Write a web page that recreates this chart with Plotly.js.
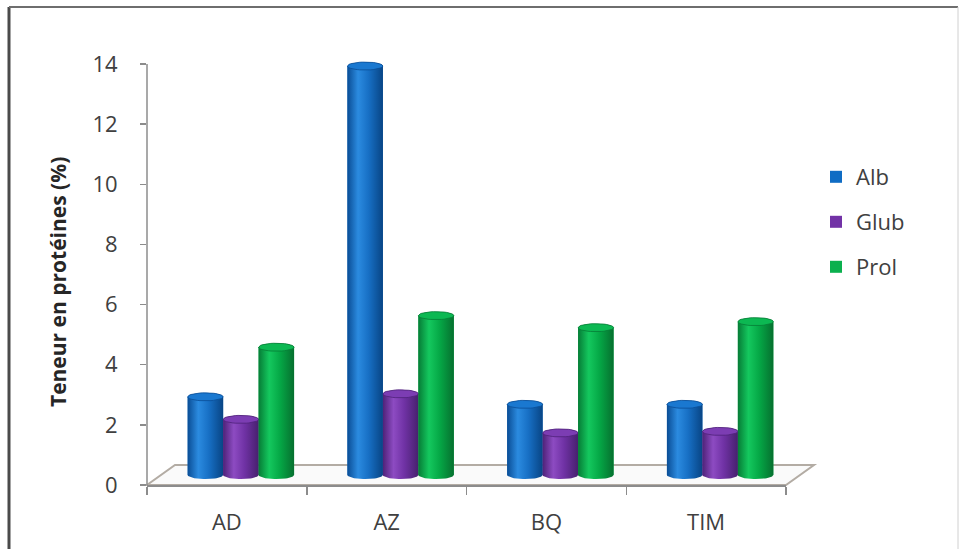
<!DOCTYPE html>
<html>
<head>
<meta charset="utf-8">
<script src="https://cdn.plot.ly/plotly-3.0.1.min.js"></script>
<style>
  html, body { margin: 0; padding: 0; background: #ffffff; }
  #chart { width: 963px; height: 549px; }
</style>
</head>
<body>
<div id="chart"></div>
<script>
// Protein content per sample (%)
const categories = ['AD', 'AZ', 'BQ', 'TIM'];
const seriesNames = ['Alb', 'Glub', 'Prol'];
const albValues = [2.6, 13.6, 2.35, 2.35];
const glubValues = [1.85, 2.7, 1.4, 1.45];
const prolValues = [4.25, 5.3, 4.9, 5.1];
const yTickValues = [0, 2, 4, 6, 8, 10, 12, 14];
const yTitle = 'Teneur en protéines (%)';

// Cylinder shading per series: edge, highlight, cap
const seriesColors = ['#0f6cc4', '#7232a6', '#0bb04e'];
const seriesShades = [
  [[0, '#0a4d95'], [0.3, '#2b8be0'], [0.6, '#176fc4'], [1, '#084585']],
  [[0, '#4e2278'], [0.3, '#8d4bc2'], [0.6, '#7032a5'], [1, '#47206e']],
  [[0, '#067c36'], [0.3, '#14c85e'], [0.6, '#05a846'], [1, '#06702f']]
];
const capColors = ['#1a78d0', '#7c3db3', '#0cb852'];
const allValues = [albValues, glubValues, prolValues];

// Plot geometry (pixels) used for the pseudo-3D depth offset
const plotLeft = 147, plotRight = 786, plotTop = 44, plotBottom = 485;
const yMaxShown = 14;
const pxPerUnitY = 30.07;
const yRangeTop = (plotBottom - plotTop) / pxPerUnitY;
const pxPerUnitX = (plotRight - plotLeft) / categories.length;
const depthX = 14 / pxPerUnitX;     // half floor depth, in category units
const depthY = 10 / pxPerUnitY;     // half floor depth, in value units
const barW = 0.222;
const capRy = 4 / pxPerUnitY;

const traces = [];

// Invisible trace that anchors the category axis
traces.push({
  type: 'scatter', x: categories, y: categories.map(() => 0),
  xaxis: 'x', yaxis: 'y', mode: 'markers',
  marker: { opacity: 0 }, showlegend: false, hoverinfo: 'skip'
});

// Flat bars (legend entries and base colour)
const legendIds = ['legend', 'legend2', 'legend3'];
seriesNames.forEach((name, k) => {
  traces.push({
    type: 'bar', name: name,
    x: categories.map((_, i) => i), y: allValues[k],
    xaxis: 'x2', yaxis: 'y2',
    marker: { color: seriesColors[k], line: { width: 0 } },
    legend: legendIds[k], hoverinfo: 'skip'
  });
});

// Cylinder bodies and caps built from the same values
function cylinderPath(cx, v, hw, ry) {
  const xs = [], ys = [];
  const N = 28;
  for (let j = 0; j <= N; j++) {
    const t = Math.PI - Math.PI * j / N;
    xs.push(cx + hw * Math.cos(t)); ys.push(v + ry * Math.sin(t));
  }
  for (let j = 0; j <= N; j++) {
    const t = -Math.PI * j / N;
    xs.push(cx + hw * Math.cos(t)); ys.push(ry * Math.sin(t));
  }
  xs.push(xs[0]); ys.push(ys[0]);
  return { xs, ys };
}
function ellipsePath(cx, v, hw, ry) {
  const xs = [], ys = [];
  const N = 40;
  for (let j = 0; j <= N; j++) {
    const t = 2 * Math.PI * j / N;
    xs.push(cx + hw * Math.cos(t)); ys.push(v + ry * Math.sin(t));
  }
  return { xs, ys };
}

categories.forEach((cat, i) => {
  seriesNames.forEach((name, k) => {
    const cx = i + (k - 1) * barW;
    const v = allValues[k][i];
    const body = cylinderPath(cx, v, barW / 2, capRy);
    traces.push({
      type: 'scatter', x: body.xs, y: body.ys, xaxis: 'x2', yaxis: 'y2',
      mode: 'lines', line: { width: 0 }, fill: 'toself',
      fillgradient: { type: 'horizontal', colorscale: seriesShades[k] },
      showlegend: false, hoverinfo: 'skip'
    });
    const cap = ellipsePath(cx, v, barW / 2, capRy);
    traces.push({
      type: 'scatter', x: cap.xs, y: cap.ys, xaxis: 'x2', yaxis: 'y2',
      mode: 'lines', line: { width: 0.8, color: seriesShades[k][0][1] },
      fill: 'toself', fillcolor: capColors[k],
      showlegend: false, hoverinfo: 'skip'
    });
  });
});

const fontFamily = '"Open Sans", "Noto Sans", sans-serif';
const floorDx = 28 / (plotRight - plotLeft);
const floorDy = 20 / (plotBottom - plotTop);
const paperX = px => (px - plotLeft) / (plotRight - plotLeft);
const paperY = py => (plotBottom - py) / (plotBottom - plotTop);

function legendAt(py) {
  return {
    x: paperX(816), y: paperY(py), xanchor: 'left', yanchor: 'middle',
    font: { family: fontFamily, size: 22, color: '#404040' },
    bgcolor: 'rgba(0,0,0,0)', borderwidth: 0
  };
}

const layout = {
  width: 963, height: 549,
  margin: { l: plotLeft, r: 963 - plotRight, t: plotTop, b: 549 - plotBottom, pad: 0 },
  paper_bgcolor: '#ffffff', plot_bgcolor: 'rgba(0,0,0,0)',
  barmode: 'group', bargap: 1 - 3 * barW, bargroupgap: 0,
  showlegend: true,
  legend: legendAt(177), legend2: legendAt(222), legend3: legendAt(267),
  xaxis: {
    type: 'category', categoryorder: 'array', categoryarray: categories,
    range: [-0.5, categories.length - 0.5], fixedrange: true,
    showline: true, linecolor: '#8c8c8c', linewidth: 1.5,
    ticks: 'outside', tickson: 'boundaries', ticklen: 8, tickcolor: '#8c8c8c', tickwidth: 1.5,
    showgrid: false, zeroline: false, ticklabelstandoff: 17,
    tickfont: { family: fontFamily, size: 22, color: '#404040' }
  },
  yaxis: {
    range: [0, yRangeTop], tickvals: yTickValues, ticktext: yTickValues.map(String),
    showline: false, ticks: 'outside', ticklen: 6, tickcolor: '#8c8c8c', tickwidth: 1.5,
    showgrid: false, zeroline: false, ticklabelstandoff: 18,
    tickfont: { family: fontFamily, size: 22, color: '#404040' }
  },
  xaxis2: {
    overlaying: 'x', anchor: 'y2', visible: false, type: 'linear',
    range: [-0.5 - depthX, categories.length - 0.5 - depthX]
  },
  yaxis2: {
    overlaying: 'y', anchor: 'x2', visible: false,
    range: [-depthY, yRangeTop - depthY]
  },
  annotations: [
    { text: yTitle, xref: 'paper', yref: 'paper', x: paperX(58), y: paperY(282),
      xanchor: 'center', yanchor: 'middle', textangle: -90, showarrow: false,
      font: { family: fontFamily, size: 21, color: '#262626', weight: 'bold' } }
  ],
  shapes: [
    // value axis line, from 0 to the last tick
    { type: 'line', xref: 'paper', yref: 'y', x0: 0, x1: 0, y0: 0, y1: yMaxShown,
      line: { color: '#8c8c8c', width: 1.5 }, layer: 'above' },
    // floor of the pseudo-3D plot
    { type: 'path', xref: 'paper', yref: 'paper', layer: 'below',
      path: `M 0 0 L 1 0 L ${1 + floorDx} ${floorDy} L ${floorDx} ${floorDy} Z`,
      line: { color: '#b3aca4', width: 2 }, fillcolor: '#fafafa' },
    // chart frame
    { type: 'line', xref: 'paper', yref: 'paper', x0: paperX(9), x1: paperX(9),
      y0: paperY(560), y1: paperY(7), line: { color: '#4a4a4a', width: 3 } },
    { type: 'line', xref: 'paper', yref: 'paper', x0: paperX(9), x1: paperX(958),
      y0: paperY(7), y1: paperY(7), line: { color: '#6e6e6e', width: 2 } },
    { type: 'line', xref: 'paper', yref: 'paper', x0: paperX(958), x1: paperX(958),
      y0: paperY(560), y1: paperY(7), line: { color: '#d0d0d0', width: 1 } }
  ]
};

Plotly.newPlot('chart', traces, layout, { staticPlot: true, displayModeBar: false });
</script>
</body>
</html>
